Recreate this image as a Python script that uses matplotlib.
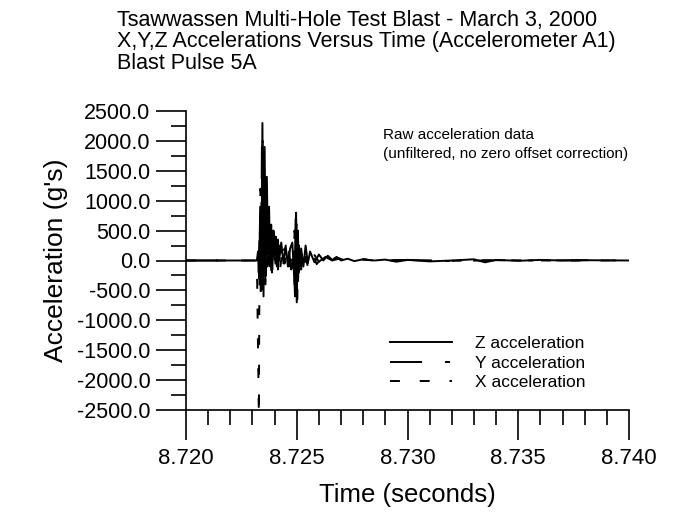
import numpy as np
import matplotlib
matplotlib.use("Agg")
from matplotlib import pyplot as plt
from matplotlib.ticker import MultipleLocator, FormatStrFormatter

# --- data (time in s, acceleration in g's) ---
t_z = [8.7200, 8.7232, 8.72325, 8.7233, 8.72335, 8.7234, 8.72345, 8.7235, 8.72355,
       8.7236, 8.72365, 8.7237, 8.72375, 8.7238, 8.72385, 8.7239, 8.72395, 8.7240,
       8.72405, 8.7241, 8.72415, 8.7242, 8.7243, 8.7244, 8.7245, 8.7246, 8.7247,
       8.7248, 8.7249, 8.72495, 8.7250, 8.72505, 8.7251, 8.7252, 8.7253, 8.7254,
       8.7255, 8.7256, 8.7258, 8.7260, 8.7262, 8.7264, 8.7266, 8.7268, 8.7270,
       8.7273, 8.7276, 8.7280, 8.7285, 8.7290, 8.7295, 8.7300, 8.7310, 8.7320,
       8.7330, 8.7335, 8.7340, 8.7350, 8.7360, 8.7370, 8.7380, 8.7400]
a_z = [0, 0, 150, -300, 900, -500, 2300, -600, 1900,
       -200, 1400, 100, 900, -100, 600, -150, 500, 100,
       400, -100, 350, 0, 300, -50, 250, -100, 200,
       300, -400, 700, -700, 500, -200, 200, -100, 250,
       -50, 150, -30, 100, 0, 80, 10, 60, 0,
       30, -10, 20, 0, 15, -20, 10, -15, 0,
       20, -30, 10, -5, 10, 0, 5, 0]

t_y = [8.7200, 8.7232, 8.72328, 8.72333, 8.72338, 8.72343, 8.72348, 8.72353,
       8.72358, 8.72363, 8.72368, 8.72373, 8.72378, 8.72383, 8.72388, 8.72395,
       8.7240, 8.72408, 8.72415, 8.72425, 8.72435, 8.72445, 8.72455, 8.72465,
       8.72475, 8.72485, 8.72492, 8.72497, 8.72502, 8.72508, 8.72515, 8.72525,
       8.72535, 8.72545, 8.7256, 8.7258, 8.7260, 8.7263, 8.7266, 8.7270,
       8.7275, 8.7280, 8.7290, 8.7300, 8.7320, 8.7340, 8.7360, 8.7380, 8.7400]
a_y = [0, 0, -200, 600, -700, 2100, -300, 1600,
       -400, 1100, -100, 700, 200, 500, -200, 400,
       -50, 300, -150, 250, -50, 200, -100, 150,
       -150, 250, -600, 800, -650, 300, -100, 180,
       -80, 120, -40, 90, -20, 60, 0, 40,
       -10, 20, 0, 10, -10, 5, 0, 5, 0]

t_x = [8.7200, 8.7232, 8.72329, 8.72331, 8.72336, 8.72341, 8.72346, 8.72351,
       8.72356, 8.72361, 8.72366, 8.72371, 8.72376, 8.72385, 8.72395, 8.72405,
       8.72415, 8.72425, 8.72435, 8.72445, 8.72455, 8.72465, 8.72475, 8.72485,
       8.7249, 8.72495, 8.7250, 8.72505, 8.7251, 8.7252, 8.7253, 8.7255,
       8.7257, 8.7259, 8.7262, 8.7265, 8.7268, 8.7272, 8.7278, 8.7285,
       8.7300, 8.7320, 8.7340, 8.7360, 8.7400]
a_x = [0, 0, -2600, -700, 1200, -400, 2000, -300,
       1500, -250, 900, -100, 600, -200, 350, -100,
       250, -150, 200, -50, 150, -100, 200, -300,
       500, -700, 650, -500, 250, -150, 200, -100,
       120, -60, 70, -20, 50, 0, 20, 0,
       10, -5, 5, 0, 0]

labels = ["Z acceleration", "Y acceleration", "X acceleration"]

plt.rcParams["font.family"] = ["Liberation Sans", "DejaVu Sans"]

fig = plt.figure(figsize=(6.81, 5.14), dpi=100)
ax = fig.add_axes([186 / 681, 1 - 410 / 514, 443 / 681, 299 / 514])

lz, = ax.plot(t_z, a_z, color="black", lw=1.4, linestyle="-")
ly, = ax.plot(t_y, a_y, color="black", lw=1.4, linestyle=(0, (16.5, 11.8, 2.6, 11.8)))
lx, = ax.plot(t_x, a_x, color="black", lw=1.4, linestyle=(0, (5.1, 10.2)))

ax.set_xlim(8.720, 8.740)
ax.set_ylim(-2500, 2500)
ax.xaxis.set_major_locator(MultipleLocator(0.005))
ax.xaxis.set_minor_locator(MultipleLocator(0.001))
ax.yaxis.set_major_locator(MultipleLocator(500))
ax.yaxis.set_minor_locator(MultipleLocator(250))
ax.xaxis.set_major_formatter(FormatStrFormatter("%.3f"))
ax.yaxis.set_major_formatter(FormatStrFormatter("%.1f"))

for s in ["top", "right"]:
    ax.spines[s].set_visible(False)
for s in ["left", "bottom"]:
    ax.spines[s].set_linewidth(1.2)

ax.tick_params(axis="both", which="major", direction="out", length=21.6, width=1.2)
ax.tick_params(axis="both", which="minor", direction="out", length=10.8, width=1.2)
ax.tick_params(axis="y", which="major", labelsize=15.5, pad=4)
ax.tick_params(axis="x", which="major", labelsize=16, pad=6)

ax.set_ylabel("Acceleration (g's)", fontsize=19, labelpad=6)
ax.set_xlabel("Time (seconds)", fontsize=18.5, labelpad=10)

ax.text(383 / 681, 1 - 128 / 514, "Raw acceleration data\n(unfiltered, no zero offset correction)",
        transform=fig.transFigure, fontsize=11, va="top", ha="left", linespacing=1.45)

fig.text(117 / 681, 1 - 10 / 514,
         "Tsawwassen Multi-Hole Test Blast - March 3, 2000\n"
         "X,Y,Z Accelerations Versus Time (Accelerometer A1)\n"
         "Blast Pulse 5A",
         fontsize=15.5, va="top", ha="left", linespacing=1.02)

ax.legend([lz, ly, lx], labels, loc="upper left",
          bbox_to_anchor=(383 / 681, 1 - 329 / 514), bbox_transform=fig.transFigure,
          borderaxespad=0, frameon=False, fontsize=12.5, handlelength=3.6,
          handletextpad=1.3, labelspacing=0.25)

fig.savefig("out.png", dpi=100)
